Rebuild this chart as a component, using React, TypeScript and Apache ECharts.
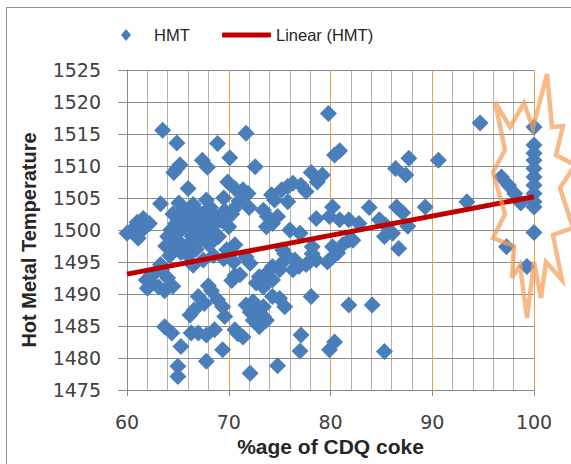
import React, { useEffect, useRef } from "react";
import * as echarts from "echarts";

// %age of CDQ coke vs Hot Metal Temperature
const hmtPoints: [number, number][] = [
  [60.0, 1499.5], [60.8, 1500.5], [61.0, 1501.2], [61.6, 1501.8], [61.1, 1498.7], [61.7, 1500.3], [62.2, 1501.0],
  [61.9, 1492.2], [62.4, 1491.7], [62.0, 1490.9], [62.4, 1492.8], [63.1, 1491.1], [63.4, 1493.8], [63.3, 1494.6],
  [62.8, 1493.4], [64.0, 1492.5], [64.5, 1491.2], [63.7, 1490.5],
  [63.3, 1504.1], [63.5, 1515.6], [63.7, 1484.9], [64.4, 1483.9], [64.2, 1496.0], [63.8, 1497.5], [64.0, 1499.0],
  [64.9, 1513.6], [64.9, 1509.6], [64.6, 1509.0], [65.2, 1510.2], [66.0, 1506.5], [67.4, 1510.9], [67.9, 1509.8],
  [68.9, 1513.5], [70.1, 1511.3], [71.7, 1515.1], [72.6, 1509.9],
  [69.9, 1507.5], [70.6, 1506.5], [71.4, 1506.3], [71.9, 1505.7], [67.8, 1504.7], [65.1, 1504.2], [66.5, 1504.0],
  [69.5, 1505.0], [71.0, 1504.5], [72.0, 1503.5], [70.5, 1503.3],
  [64.5, 1502.5], [64.8, 1501.0], [65.0, 1499.5], [65.2, 1498.0], [65.5, 1503.0], [65.7, 1500.5], [65.9, 1497.5],
  [66.2, 1502.0], [66.4, 1499.0], [66.6, 1501.5], [66.8, 1497.0], [67.0, 1500.0], [67.2, 1498.5], [67.4, 1502.5],
  [67.6, 1499.5], [67.9, 1501.0], [68.2, 1503.5], [68.4, 1500.5], [68.7, 1502.0], [69.0, 1499.0], [64.3, 1500.0],
  [65.3, 1496.5], [66.0, 1496.0], [64.6, 1497.5], [68.0, 1497.8], [69.3, 1501.5], [69.6, 1503.0], [70.0, 1500.5],
  [70.3, 1502.5], [70.6, 1497.7], [69.8, 1496.9], [66.1, 1500.8], [67.0, 1502.8], [65.5, 1501.8], [68.6, 1498.5],
  [68.5, 1496.0], [69.5, 1495.5], [70.5, 1495.0], [71.7, 1495.8], [67.5, 1495.3], [66.5, 1494.5], [70.6, 1492.9],
  [70.3, 1492.1], [71.1, 1493.0],
  [67.0, 1489.6], [67.6, 1488.5], [66.6, 1487.5], [66.2, 1486.7], [68.9, 1489.1], [69.4, 1488.0], [69.6, 1486.5],
  [68.3, 1490.5], [68.0, 1491.3],
  [65.3, 1481.8], [66.3, 1483.9], [67.0, 1483.9], [67.8, 1483.6], [68.6, 1484.4], [67.8, 1479.5], [69.4, 1481.3],
  [65.0, 1478.7], [65.0, 1477.1], [70.6, 1484.4], [70.9, 1483.8],
  [71.7, 1488.3], [72.4, 1488.8], [72.1, 1487.2], [72.7, 1487.5], [73.4, 1486.5], [73.0, 1484.9], [72.4, 1485.9],
  [73.4, 1488.0], [73.7, 1485.9], [75.0, 1489.3], [75.5, 1488.0], [74.3, 1489.6], [71.4, 1483.3], [72.1, 1477.6],
  [74.8, 1478.8], [77.1, 1483.6], [77.0, 1481.1], [78.1, 1489.6],
  [72.1, 1494.8], [73.0, 1492.7], [72.7, 1491.7], [73.7, 1493.2], [74.3, 1492.2], [75.0, 1493.8], [73.4, 1491.1],
  [74.3, 1494.3], [75.2, 1494.8], [75.5, 1496.3], [76.5, 1495.3], [76.9, 1494.3], [76.3, 1493.8], [77.6, 1494.6],
  [77.9, 1495.0], [78.6, 1495.3], [78.2, 1496.3], [80.2, 1495.8], [79.7, 1495.0], [80.7, 1496.4], [80.2, 1497.4],
  [81.2, 1497.7], [81.8, 1498.4], [75.3, 1496.9], [78.2, 1497.4], [76.0, 1500.0], [77.0, 1499.5],
  [73.4, 1503.1], [73.8, 1502.1], [73.7, 1500.5], [74.3, 1501.0], [74.8, 1502.1], [74.2, 1505.5], [74.5, 1504.7],
  [75.2, 1506.3], [75.8, 1504.4], [75.8, 1506.8], [76.3, 1507.3], [77.1, 1507.0], [77.6, 1506.0], [78.1, 1509.0],
  [79.2, 1508.6], [78.7, 1507.5], [78.6, 1501.8], [79.9, 1502.1], [80.2, 1503.6],
  [79.8, 1518.2], [80.4, 1511.7], [80.9, 1512.4], [80.9, 1501.6], [81.8, 1501.6], [82.8, 1501.0], [83.8, 1503.5],
  [84.8, 1501.6], [85.4, 1500.8], [82.2, 1498.4], [85.3, 1499.0], [80.4, 1482.5], [79.9, 1481.3], [81.8, 1488.3],
  [84.1, 1488.3], [85.3, 1481.0],
  [86.4, 1509.6], [87.4, 1508.6], [87.7, 1511.2], [90.6, 1510.9], [94.7, 1516.7], [86.5, 1503.6], [87.1, 1502.7],
  [87.6, 1500.6], [86.1, 1499.5], [86.7, 1497.1], [89.3, 1503.6], [93.4, 1504.4], [96.8, 1508.3], [97.5, 1507.0],
  [98.1, 1505.7], [98.7, 1504.2], [97.3, 1497.4], [99.3, 1494.3],
  [100, 1516.1], [100, 1513.3], [100, 1512.0], [100, 1510.9], [100, 1509.6], [100, 1508.3], [100, 1507.0],
  [100, 1505.7], [100, 1504.4], [100, 1503.6], [100, 1499.6],
];

// Linear trend line (HMT), endpoints
const trendX = [60, 100];
const trendY = [1493.1, 1505.2];

const xTicks = { min: 60, max: 100, interval: 10, minorInterval: 2 };
const yTicks = { min: 1475, max: 1525, interval: 5 };

// decorative starburst outline (pixel coordinates)
const burst: [number, number][] = [
  [495, 102], [510, 127], [524, 103], [533, 128], [547, 74], [552, 127], [563, 126], [556, 155],
  [575, 165], [560, 188], [573, 228], [553, 235], [562, 280], [546, 262], [541, 298], [534, 262],
  [527, 318], [520, 265], [512, 278], [514, 246], [493, 238], [505, 214], [493, 172], [505, 150],
];

function range(min: number, max: number, step: number): number[] {
  const out: number[] = [];
  const n = Math.round((max - min) / step);
  for (let i = 0; i <= n; i++) out.push(+(min + i * step).toFixed(6));
  return out;
}

export default function App() {
  const ref = useRef<HTMLDivElement>(null);
  useEffect(() => {
    if (!ref.current) return;
    const chart = echarts.init(ref.current, undefined, { renderer: "svg" });
    const gray = "#8a8a8a";
    const lightGray = "#b0b0b0";
    const orange = "#E6A04E";

    const majorX = range(xTicks.min, xTicks.max, xTicks.interval).filter((v) => v > xTicks.min);
    const minorX = range(xTicks.min, xTicks.max, xTicks.minorInterval).filter(
      (v) => v > xTicks.min && !majorX.includes(v)
    );
    const gridY = range(yTicks.min, yTicks.max, yTicks.interval).filter((v) => v > yTicks.min);

    const gridLines = [
      ...minorX.map((v) => ({ xAxis: v, lineStyle: { color: lightGray, width: 1, type: "solid" } })),
      ...gridY.map((v) => ({ yAxis: v, lineStyle: { color: gray, width: 1, type: "solid" } })),
      ...majorX.map((v) => ({ xAxis: v, lineStyle: { color: orange, width: 1, type: "solid" } })),
    ];

    const hiddenAxis = {
      type: "value",
      min: xTicks.min,
      max: xTicks.max,
      position: "bottom",
      axisLine: { show: false },
      axisTick: { show: false },
      axisLabel: { show: false },
    };
    chart.setOption({
      animation: false,
      grid: { left: 127, right: 37, top: 70, bottom: 74 },
      legend: [
        {
          data: [{ name: "HMT", icon: "diamond" }],
          left: 121,
          top: 25,
          padding: 0,
          itemWidth: 10,
          itemHeight: 12,
          textStyle: { fontFamily: "Liberation Sans", fontSize: 16.5, color: "#262626", padding: [0, 0, 0, 18], lineHeight: 20 },
        },
        {
          data: [{ name: "Linear (HMT)", icon: "roundRect" }],
          left: 222,
          top: 25,
          padding: 0,
          itemWidth: 49,
          itemHeight: 5,
          textStyle: { fontFamily: "Liberation Sans", fontSize: 16.5, color: "#262626", lineHeight: 20 },
        },
      ],
      xAxis: [
        {
          type: "value",
          min: xTicks.min,
          max: xTicks.max,
          interval: xTicks.interval,
          name: "%age of CDQ coke",
          nameLocation: "middle",
          nameGap: 45,
          nameTextStyle: { fontFamily: "Liberation Sans", fontWeight: "bold", fontSize: 21, color: "#262626" },
          axisLine: { show: true, lineStyle: { color: gray, width: 1 } },
          axisTick: { show: true, length: 6, lineStyle: { color: gray } },
          axisLabel: { fontFamily: "DejaVu Sans", fontSize: 19, color: "#404040", margin: 22 },
          splitLine: { show: false },
        },
        {
          ...hiddenAxis,
          interval: xTicks.minorInterval,
          splitLine: { show: true, showMinLine: false, lineStyle: { color: lightGray, width: 1 } },
        },
        {
          ...hiddenAxis,
          interval: xTicks.interval,
          splitLine: { show: true, showMinLine: false, lineStyle: { color: orange, width: 1 } },
        },
      ],
      yAxis: {
        type: "value",
        min: yTicks.min,
        max: yTicks.max,
        interval: yTicks.interval,
        name: "Hot Metal Temperature",
        nameLocation: "middle",
        nameGap: 88,
        nameTextStyle: {
          fontFamily: "Liberation Sans",
          fontWeight: "bold",
          fontSize: 20,
          color: "#262626",
          padding: [0, 20, 0, 0],
        },
        axisLine: { show: true, lineStyle: { color: gray, width: 1 } },
        axisTick: { show: true, length: 9, lineStyle: { color: gray } },
        axisLabel: { fontFamily: "DejaVu Sans", fontSize: 19, color: "#404040", margin: 26, formatter: (v: number) => String(v) },
        splitLine: { show: true, lineStyle: { color: gray, width: 1 } },
      },
      series: [
        {
          name: "grid",
          type: "line",
          symbol: "none",
          silent: true,
          lineStyle: { width: 0, opacity: 0 },
          data: trendX.map((x, i) => [x, trendY[i]]),
          z: 1,
          markLine: {
            silent: true,
            z: 1,
            symbol: ["none", "none"],
            label: { show: false },
            emphasis: { disabled: true },
            animation: false,
            data: gridLines,
          },
        },
        {
          name: "HMT",
          type: "scatter",
          symbol: "diamond",
          symbolSize: 17,
          itemStyle: { color: "#4A7EBB", opacity: 1 },
          data: hmtPoints,
          z: 6,
        },
        {
          name: "Linear (HMT)",
          type: "line",
          symbol: "none",
          lineStyle: { color: "#C00000", width: 5 },
          itemStyle: { color: "#C00000" },
          data: trendX.map((x, i) => [x, trendY[i]]),
          z: 7,
        },
      ],
      graphic: [
        {
          type: "rect",
          silent: true,
          shape: { x: 6.5, y: 7.5, width: 620, height: 520 },
          style: { fill: "transparent", stroke: "#8c8c8c", lineWidth: 1 },
        },
        {
          type: "polygon",
          silent: true,
          z: 100,
          shape: { points: burst },
          style: { fill: "transparent", stroke: "rgba(243,160,90,0.72)", lineWidth: 4.5, lineJoin: "miter" },
        },
      ],
    });
    return () => chart.dispose();
  }, []);
  return (
    <div
      ref={ref}
      style={{ position: "absolute", left: 0, top: 0, width: 571, height: 464, background: "#fff" }}
    />
  );
}
